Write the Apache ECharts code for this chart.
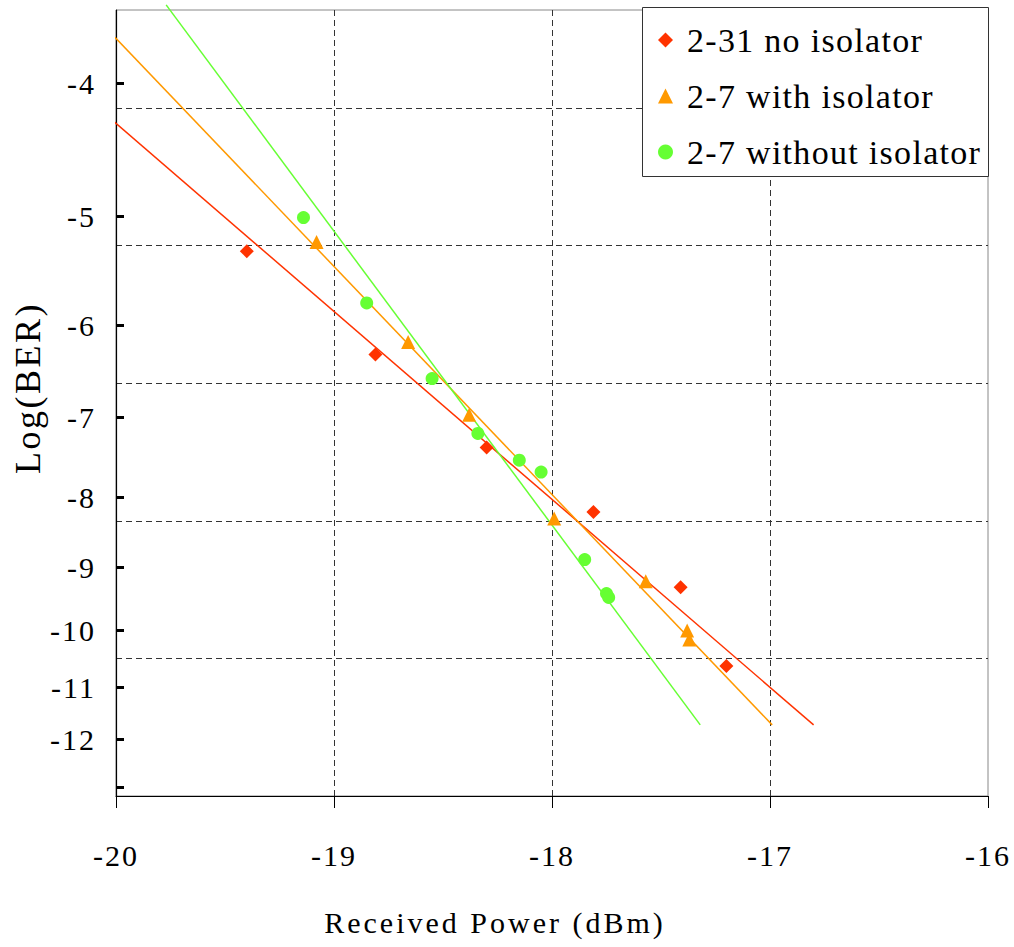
<!DOCTYPE html>
<html>
<head>
<meta charset="utf-8">
<script src="https://cdn.jsdelivr.net/npm/echarts@6/dist/echarts.min.js"></script>
<style>
html,body{margin:0;padding:0;background:#fff;}
#main{width:1014px;height:947px;}
#main text{letter-spacing:2px;}
</style>
</head>
<body>
<div id="main"></div>
<script>
// ---- data (x: received power dBm, y: log10(BER)) ----
const xTicks = [-20, -19, -18, -17, -16];
const yLabelTicks = [-4, -5, -6, -7, -8, -9, -10, -11, -12];
const yMarkTicks = [-4, -5, -6, -7, -8, -9, -10, -11, -12, -13];
const yTop = -3.54;
const yBottom = -13.19;

const seriesNames = ['2-31 no isolator', '2-7 with isolator', '2-7 without isolator'];

const redX = [-19.40, -18.81, -18.30, -17.81, -17.41, -17.20];
const redY = [-5.30, -6.30, -7.36, -8.20, -9.30, -10.61];

const orangeX = [-19.08, -18.66, -18.38, -17.99, -17.57, -17.38, -17.37];
const orangeY = [-5.22, -6.17, -6.97, -8.29, -9.21, -10.00, -10.15];

const greenX = [-19.14, -18.85, -18.55, -18.34, -18.15, -18.05, -17.85, -17.75, -17.74];
const greenY = [-5.01, -5.78, -6.56, -7.19, -7.52, -7.67, -8.88, -9.40, -9.46];

// fitted trend lines (end points)
const redFitX = [-20.03, -16.80];
const redFitY = [-4.24, -11.71];
const orangeFitX = [-20.03, -16.99];
const orangeFitY = [-3.67, -11.71];
const greenFitX = [-19.77, -17.32];
const greenFitY = [-3.51, -11.71];

// ---- BER scale transform: position ~ log10(-log10(BER)) ----
const T = v => Math.log10(-v);
const zip = (xs, ys) => xs.map((x, i) => [x, T(ys[i])]);

const FONT = 'Liberation Serif';
const RED = '#FF3300', ORANGE = '#FF9900', GREEN = '#66FF33';

const chart = echarts.init(document.getElementById('main'), null, {renderer: 'svg'});

const option = {
  animation: false,
  backgroundColor: '#fff',
  textStyle: {fontFamily: FONT, color: '#000'},
  grid: {
    left: 116, right: 26, top: 10, bottom: 151,
    show: true, borderColor: '#888', borderWidth: 1, backgroundColor: 'transparent'
  },
  xAxis: {
    type: 'value', min: xTicks[0], max: xTicks[xTicks.length - 1], interval: 1,
    axisLine: {lineStyle: {color: '#000', width: 1.2}},
    axisTick: {show: true, length: 12, lineStyle: {color: '#000', width: 1}},
    axisLabel: {fontSize: 30, fontFamily: FONT, color: '#000', margin: 44},
    splitLine: {show: true, showMinLine: false, showMaxLine: false,
      lineStyle: {type: [6, 4], color: '#333', width: 1}}
  },
  yAxis: [
    {
      type: 'value', inverse: true, min: T(yTop), max: T(yBottom),
      axisLine: {show: true, lineStyle: {color: '#000', width: 1.2}},
      axisTick: {show: true, inside: true, length: 8, customValues: yMarkTicks.map(T),
        lineStyle: {color: '#000', width: 3}},
      axisLabel: {fontSize: 30, fontFamily: FONT, color: '#000', margin: 20,
        customValues: yLabelTicks.map(T),
        formatter: v => String(-Math.round(Math.pow(10, v)))},
      splitLine: {show: false}
    },
    {
      // uniform gridlines of the transformed scale
      type: 'value', position: 'left', min: 0, max: T(yBottom) - T(yTop), interval: 0.1,
      axisLine: {show: false}, axisTick: {show: false}, axisLabel: {show: false},
      splitLine: {show: true, showMinLine: false, showMaxLine: false,
        lineStyle: {type: [6, 4], color: '#333', width: 1}}
    }
  ],
  legend: {
    data: seriesNames,
    orient: 'vertical', left: 658, top: 22,
    itemWidth: 15, itemHeight: 15, itemGap: 20,
    padding: 0, z: 12,
    textStyle: {fontSize: 34, fontFamily: FONT, color: '#000', lineHeight: 36,
      padding: [0, 0, 0, 9]}
  },
  graphic: [
    {type: 'rect', left: 642, top: 7, z: 11, silent: true,
      shape: {width: 346, height: 169},
      style: {fill: '#fff', stroke: '#333', lineWidth: 1}},
    {type: 'text', x: 495, y: 922, z: 11,
      style: {text: 'Received Power (dBm)', fontSize: 30, fontFamily: FONT, fill: '#000',
        textAlign: 'center', textVerticalAlign: 'middle'}},
    {type: 'text', x: 28, y: 388, rotation: Math.PI / 2, z: 11,
      style: {text: 'Log(BER)', fontSize: 36, fontFamily: FONT, fill: '#000',
        textAlign: 'center', textVerticalAlign: 'middle'}}
  ],
  series: [
    {name: 'fit1', type: 'line', data: zip(redFitX, redFitY), showSymbol: false, clip: false,
      lineStyle: {color: RED, width: 1.5}, itemStyle: {color: RED}, z: 1},
    {name: 'fit2', type: 'line', data: zip(orangeFitX, orangeFitY), showSymbol: false, clip: false,
      lineStyle: {color: ORANGE, width: 1.5}, itemStyle: {color: ORANGE}, z: 1},
    {name: 'fit3', type: 'line', data: zip(greenFitX, greenFitY), showSymbol: false, clip: false,
      lineStyle: {color: GREEN, width: 1.5}, itemStyle: {color: GREEN}, z: 1},
    {name: seriesNames[0], type: 'scatter', symbol: 'diamond', symbolSize: 14,
      data: zip(redX, redY), itemStyle: {color: RED, opacity: 1}, z: 3},
    {name: seriesNames[1], type: 'scatter', symbol: 'triangle', symbolSize: 14,
      data: zip(orangeX, orangeY), itemStyle: {color: ORANGE, opacity: 1}, z: 3},
    {name: seriesNames[2], type: 'scatter', symbol: 'circle', symbolSize: 13,
      data: zip(greenX, greenY), itemStyle: {color: GREEN, opacity: 1}, z: 3}
  ]
};
chart.setOption(option);

function tuneSpacing() {
  const texts = document.querySelectorAll('#main text');
  texts.forEach(t => {
    const s = t.textContent;
    if (seriesNames.indexOf(s) >= 0) t.style.letterSpacing = '1.3px';
    else if (s === 'Received Power (dBm)') t.style.letterSpacing = '3px';
    else if (s === 'Log(BER)') t.style.letterSpacing = '2.5px';
  });
}
chart.on('finished', tuneSpacing);
tuneSpacing();
</script>
</body>
</html>
